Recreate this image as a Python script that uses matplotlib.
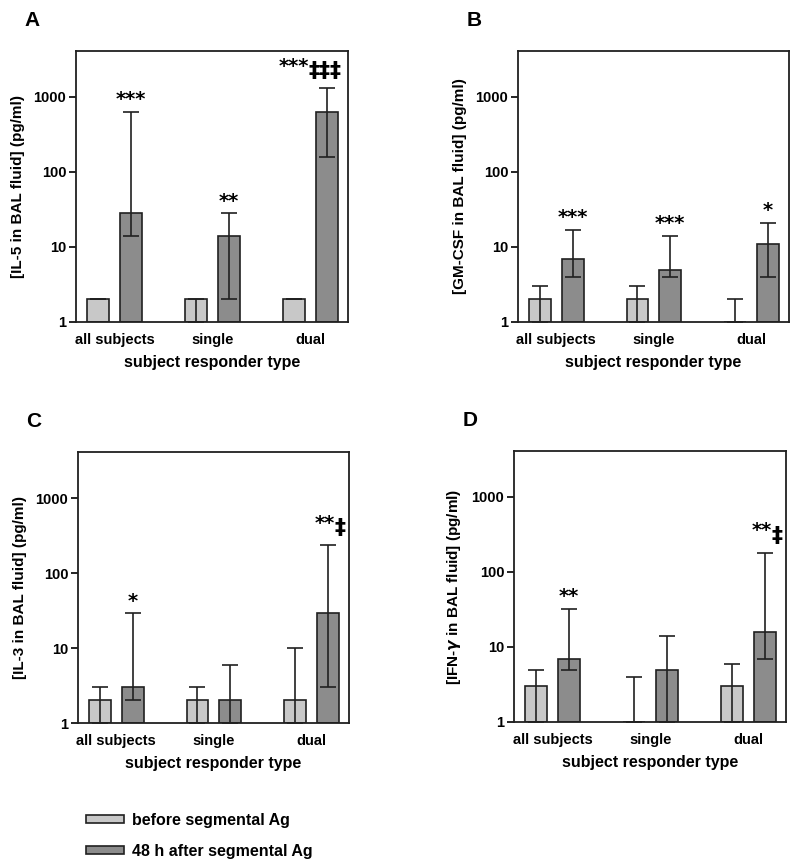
import numpy as np
import matplotlib
matplotlib.use("Agg")
import matplotlib.pyplot as plt
from matplotlib.patches import Patch
from matplotlib.ticker import FixedLocator, NullLocator

plt.rcParams['font.family'] = ['Liberation Sans', 'DejaVu Sans']
plt.rcParams['font.weight'] = 'bold'

groups = ["all subjects", "single", "dual"]

# IL-5
il5_before = [2, 2, 2]
il5_before_lo = [2, 1, 2]
il5_before_hi = [2, 2, 2]
il5_after = [28, 14, 630]
il5_after_lo = [14, 2, 160]
il5_after_hi = [630, 28, 1300]
il5_stars = ["***", "**", "***"]
il5_daggers = ["", "", "‡‡‡"]

# GM-CSF
gm_before = [2, 2, 1]
gm_before_lo = [1, 1, 1]
gm_before_hi = [3, 3, 2]
gm_after = [7, 5, 11]
gm_after_lo = [4, 4, 4]
gm_after_hi = [17, 14, 21]
gm_stars = ["***", "***", "*"]
gm_daggers = ["", "", ""]

# IL-3
il3_before = [2, 2, 2]
il3_before_lo = [1, 1, 1]
il3_before_hi = [3, 3, 10]
il3_after = [3, 2, 29]
il3_after_lo = [2, 1, 3]
il3_after_hi = [29, 6, 235]
il3_stars = ["*", "", "**"]
il3_daggers = ["", "", "‡"]

# IFN-gamma
ifn_before = [3, 1, 3]
ifn_before_lo = [1, 1, 1]
ifn_before_hi = [5, 4, 6]
ifn_after = [7, 5, 16]
ifn_after_lo = [5, 1, 7]
ifn_after_hi = [32, 14, 180]
ifn_stars = ["**", "", "**"]
ifn_daggers = ["", "", "‡"]

light = "#c8c8c8"
dark = "#8c8c8c"
edge = "#202020"

fig = plt.figure(figsize=(8, 8.63), dpi=100)

panels = [
    ("A", [0.095, 0.6269, 0.340, 0.314], "[IL-5 in BAL fluid] (pg/ml)",
     il5_before, il5_before_lo, il5_before_hi, il5_after, il5_after_lo, il5_after_hi,
     il5_stars, il5_daggers),
    ("B", [0.6475, 0.6269, 0.3385, 0.314], "[GM-CSF in BAL fluid] (pg/ml)",
     gm_before, gm_before_lo, gm_before_hi, gm_after, gm_after_lo, gm_after_hi,
     gm_stars, gm_daggers),
    ("C", [0.0975, 0.1622, 0.3385, 0.314], "[IL-3 in BAL fluid] (pg/ml)",
     il3_before, il3_before_lo, il3_before_hi, il3_after, il3_after_lo, il3_after_hi,
     il3_stars, il3_daggers),
    ("D", [0.6425, 0.1634, 0.340, 0.314], r"[IFN-$\gamma$ in BAL fluid] (pg/ml)",
     ifn_before, ifn_before_lo, ifn_before_hi, ifn_after, ifn_after_lo, ifn_after_hi,
     ifn_stars, ifn_daggers),
]

x = np.arange(len(groups))
w = 0.224
off = 0.168

for letter, rect, ylab, bv, blo, bhi, av, alo, ahi, stars, daggers in panels:
    ax = fig.add_axes(rect)
    ax.set_yscale('log')
    bv = np.array(bv, float); av = np.array(av, float)
    ax.bar(x - off, bv - 1, w, bottom=1, color=light, edgecolor=edge, linewidth=1.2, zorder=2)
    ax.bar(x + off, av - 1, w, bottom=1, color=dark, edgecolor=edge, linewidth=1.2, zorder=2)
    ax.errorbar(x - off, bv, yerr=[bv - np.array(blo), np.array(bhi) - bv], fmt='none',
                ecolor=edge, elinewidth=1.2, capsize=6, capthick=1.2, zorder=3)
    ax.errorbar(x + off, av, yerr=[av - np.array(alo), np.array(ahi) - av], fmt='none',
                ecolor=edge, elinewidth=1.2, capsize=6, capthick=1.2, zorder=3)
    for xi, top, st, dg in zip(x + off, ahi, stars, daggers):
        if dg:
            split = 5 - 9 * (len(dg) - 1)
            ax.annotate(st, xy=(xi, top), xytext=(split, 9), textcoords='offset points',
                        ha='right', va='bottom', fontsize=14, fontweight='bold',
                        family='DejaVu Sans')
            ax.annotate(dg, xy=(xi, top), xytext=(split, 5), textcoords='offset points',
                        ha='left', va='bottom', fontsize=16, fontweight='bold',
                        family='DejaVu Sans')
        elif st:
            ax.annotate(st, xy=(xi, top), xytext=(0, 2), textcoords='offset points',
                        ha='center', va='bottom', fontsize=14, fontweight='bold',
                        family='DejaVu Sans')
    ax.set_xlim(-0.393, 2.383)
    ax.set_ylim(1, 4100)
    ax.yaxis.set_major_locator(FixedLocator([1, 10, 100, 1000]))
    ax.yaxis.set_minor_locator(NullLocator())
    ax.set_yticklabels(["1", "10", "100", "1000"])
    ax.set_xticks(x)
    ax.set_xticklabels(groups)
    ax.tick_params(axis='x', length=0, pad=8, labelsize=10.5)
    ax.tick_params(axis='y', length=5, width=1.2, pad=2, labelsize=10.5)
    for s in ax.spines.values():
        s.set_linewidth(1.3)
        s.set_color(edge)
    ax.set_ylabel(ylab, fontsize=11, fontweight='bold', labelpad=6)
    ax.set_xlabel("subject responder type", fontsize=11.5, fontweight='bold', labelpad=6)
    fig.text(rect[0] - 0.055, rect[1] + rect[3] + 0.035, letter, fontsize=15, fontweight='bold',
             ha='center', va='center')

handles = [Patch(facecolor=light, edgecolor=edge, linewidth=1.2),
           Patch(facecolor=dark, edgecolor=edge, linewidth=1.2)]
fig.legend(handles, ["before segmental Ag", "48 h after segmental Ag"], loc='upper left',
           bbox_to_anchor=(0.107, 0.058), frameon=False, fontsize=11.5,
           handlelength=2.4, handleheight=0.4, labelspacing=1.0, handletextpad=0.5,
           borderaxespad=0, borderpad=0)

fig.savefig("out.png", dpi=100)
